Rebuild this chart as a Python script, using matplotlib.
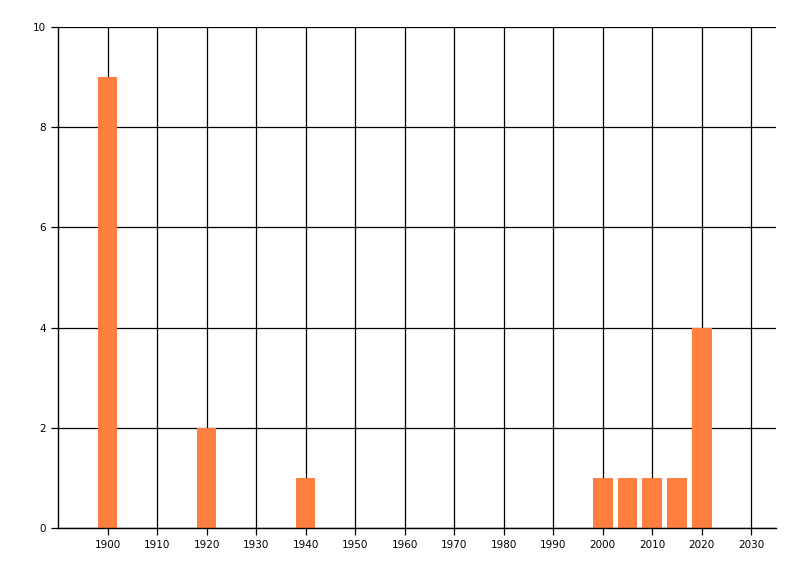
import matplotlib
matplotlib.use("Agg")
import matplotlib.pyplot as plt

# data
years = [1900, 1920, 1940, 2000, 2005, 2010, 2015, 2020]
counts = [9, 2, 1, 1, 1, 1, 1, 4]
xticks = list(range(1900, 2031, 10))
yticks = [0, 2, 4, 6, 8, 10]

fig = plt.figure(figsize=(8, 5.76), dpi=100)
ax = fig.add_axes([0.0725, 0.0833, 0.8975, 0.87])

ax.bar(years, counts, width=4, color="#FF7F40", zorder=3)

ax.set_xlim(1890, 2035)
ax.set_ylim(0, 10)
ax.set_xticks(xticks)
ax.set_yticks(yticks)
ax.grid(True, color="black", linewidth=0.9, zorder=0)
ax.set_axisbelow(True)

for s in ["top", "right"]:
    ax.spines[s].set_visible(False)
for s in ["left", "bottom"]:
    ax.spines[s].set_linewidth(1)
    ax.spines[s].set_zorder(4)

ax.tick_params(axis="both", labelsize=7.5, length=5, width=0.9, colors="black")

plt.savefig("out.png", dpi=100)
